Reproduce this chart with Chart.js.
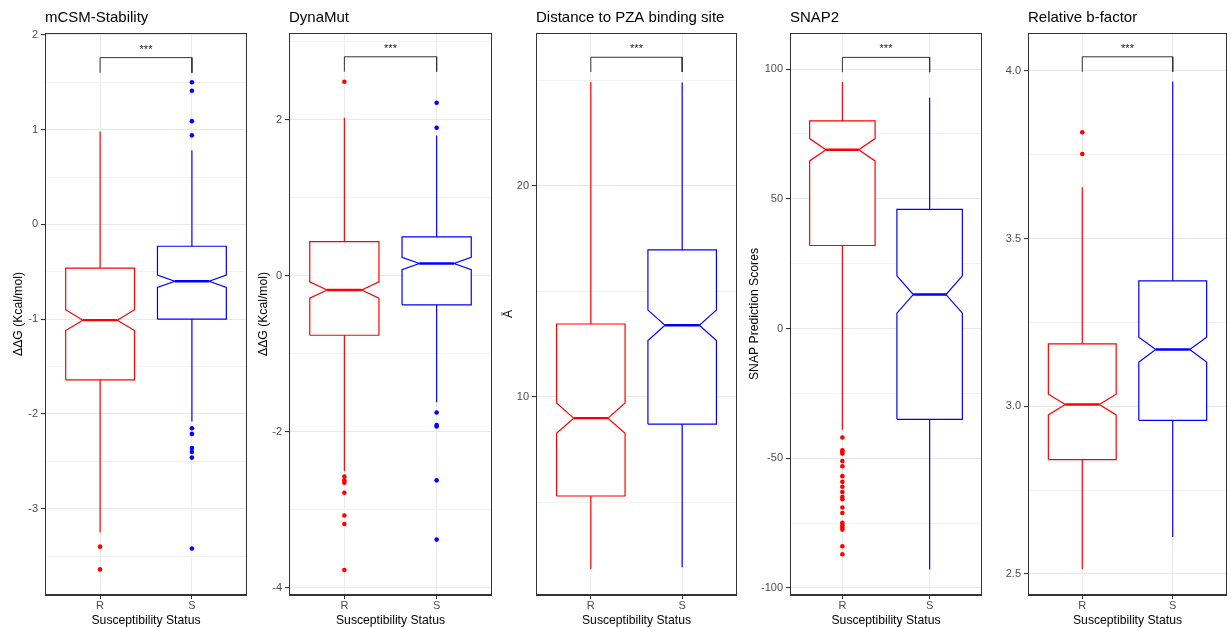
<!DOCTYPE html>
<html>
<head>
<meta charset="utf-8">
<script src="https://cdn.jsdelivr.net/npm/chart.js@4.4.1/dist/chart.umd.min.js"></script>
<style>
  body { margin: 0; background: #fff; }
  canvas { position: absolute; top: 0; }
</style>
</head>
<body>
<script>
const groups = ['R', 'S'];

// box stats: [lower whisker, Q1, median, Q3, upper whisker]
const mcsmR = [-3.25, -1.64, -1.01, -0.46, 0.98];
const mcsmS = [-2.08, -1.00, -0.60, -0.23, 0.78];
const mcsmNotch = [0.11, 0.065];
const mcsmOutR = [-3.40, -3.64];
const mcsmOutS = [1.50, 1.41, 1.09, 0.94, -2.15, -2.21, -2.36, -2.40, -2.46, -3.42];
const mcsmTicks = [-3, -2, -1, 0, 1, 2];
const mcsmBracket = [1.60, 1.76];

const dynaR = [-2.50, -0.76, -0.18, 0.44, 2.03];
const dynaS = [-1.62, -0.37, 0.16, 0.50, 1.80];
const dynaNotch = [0.105, 0.08];
const dynaOutR = [2.49, -2.57, -2.62, -2.65, -2.78, -3.07, -3.18, -3.77];
const dynaOutS = [2.22, 1.90, -1.75, -1.91, -1.93, -2.62, -3.38];
const dynaTicks = [-4, -2, 0, 2];
const dynaBracket = [2.62, 2.81];

const distR = [1.85, 5.31, 9.0, 13.46, 24.93];
const distS = [1.94, 8.72, 13.4, 16.97, 24.9];
const distNotch = [0.72, 0.72];
const distOutR = [];
const distOutS = [];
const distTicks = [10, 20];
const distBracket = [25.4, 26.1];

const snapR = [-39, 32, 68.9, 80, 95];
const snapS = [-92.9, -35, 13.1, 45.9, 88.9];
const snapNotch = [4.3, 7.2];
const snapOutR = [-42.0, -46.9, -47.5, -48.2, -51.1, -53.1, -56.9, -59.1, -61.0, -63.0,
                  -64.9, -65.8, -69.0, -71.1, -74.9, -75.8, -76.7, -77.5, -83.9, -87.0];
const snapOutS = [];
const snapTicks = [-100, -50, 0, 50, 100];
const snapBracket = [98.8, 104.5];

const bfacR = [2.514, 2.841, 3.005, 3.186, 3.653];
const bfacS = [2.61, 2.958, 3.169, 3.374, 3.968];
const bfacNotch = [0.031, 0.037];
const bfacOutR = [3.817, 3.752];
const bfacOutS = [];
const bfacTicks = [2.5, 3.0, 3.5, 4.0];
const bfacBracket = [3.997, 4.042];

const groupColors = ['#ff0000', '#0000ff'];
const boxHalf = 0.375;
const FONT = "'Liberation Sans', Arial, sans-serif";

const panels = [
  { title: 'mCSM-Stability', yTitle: 'ΔΔG (Kcal/mol)', boxes: [mcsmR, mcsmS], notch: mcsmNotch,
    out: [mcsmOutR, mcsmOutS], ticks: mcsmTicks, bracket: mcsmBracket, yMin: -3.91, yMax: 2.02,
    left: 11, plotLeft: 45, plotRight: 246, dec: 0 },
  { title: 'DynaMut', yTitle: 'ΔΔG (Kcal/mol)', boxes: [dynaR, dynaS], notch: dynaNotch,
    out: [dynaOutR, dynaOutS], ticks: dynaTicks, bracket: dynaBracket, yMin: -4.09, yMax: 3.115,
    left: 256, plotLeft: 289, plotRight: 491, dec: 0 },
  { title: 'Distance to PZA binding site', yTitle: 'Å', boxes: [distR, distS], notch: distNotch,
    out: [distOutR, distOutS], ticks: distTicks, bracket: distBracket, yMin: 0.62, yMax: 27.25,
    left: 501, plotLeft: 536, plotRight: 736, dec: 0 },
  { title: 'SNAP2', yTitle: 'SNAP Prediction Scores', boxes: [snapR, snapS], notch: snapNotch,
    out: [snapOutR, snapOutS], ticks: snapTicks, bracket: snapBracket, yMin: -102.7, yMax: 113.9,
    left: 747, plotLeft: 790, plotRight: 981, dec: 0 },
  { title: 'Relative b-factor', yTitle: '', boxes: [bfacR, bfacS], notch: bfacNotch,
    out: [bfacOutR, bfacOutS], ticks: bfacTicks, bracket: bfacBracket, yMin: 2.437, yMax: 4.113,
    left: 1000, plotLeft: 1028, plotRight: 1226, dec: 1 }
];

function line(data, color, width, order, extra) {
  return Object.assign({
    data: data, showLine: true, borderColor: color, borderWidth: width,
    pointRadius: 0, tension: 0, fill: false, order: order
  }, extra || {});
}

function makeChart(p) {
  const canvas = document.createElement('canvas');
  canvas.width = p.plotRight - p.left + 1;
  canvas.height = 627;
  canvas.style.left = p.left + 'px';
  document.body.appendChild(canvas);

  const isMajor = v => p.ticks.some(m => Math.abs(m - v) < 1e-6);
  const step = p.ticks[1] - p.ticks[0];
  const allTicks = [];
  for (let k = -2; k <= (p.ticks.length + 1) * 2; k++) {
    const v = Math.round((p.ticks[0] + k * step / 2) * 10000) / 10000;
    if (v >= p.yMin && v <= p.yMax) allTicks.push(v);
  }

  const datasets = [];
  p.boxes.forEach((b, i) => {
    const c = i + 1, col = groupColors[i], n = p.notch[i];
    const [lo, q1, med, q3, hi] = b;
    datasets.push(line([{ x: c, y: lo }, { x: c, y: hi }], col, 1.2, 3));
    datasets.push(line([
      { x: c - boxHalf, y: q1 }, { x: c - boxHalf, y: med - n }, { x: c - boxHalf / 2, y: med },
      { x: c - boxHalf, y: med + n }, { x: c - boxHalf, y: q3 }, { x: c + boxHalf, y: q3 },
      { x: c + boxHalf, y: med + n }, { x: c + boxHalf / 2, y: med }, { x: c + boxHalf, y: med - n },
      { x: c + boxHalf, y: q1 }, { x: c - boxHalf, y: q1 }
    ], col, 1.2, 2, { fill: 'shape', backgroundColor: '#ffffff' }));
    datasets.push(line([{ x: c - boxHalf / 2, y: med }, { x: c + boxHalf / 2, y: med }], col, 2.4, 1));
    datasets.push({
      data: p.out[i].map(y => ({ x: c, y: y })), showLine: false,
      pointRadius: 2.3, pointBackgroundColor: col, pointBorderWidth: 0, order: 0
    });
  });
  datasets.push(line([
    { x: 1, y: p.bracket[0] }, { x: 1, y: p.bracket[1] },
    { x: 2, y: p.bracket[1] }, { x: 2, y: p.bracket[0] }
  ], '#333333', 1, 4));

  const frame = {
    id: 'frame',
    afterDatasetsDraw(chart) {
      const ctx = chart.ctx, a = chart.chartArea;
      ctx.save();
      ctx.fillStyle = '#222';
      ctx.font = '11px ' + FONT;
      ctx.textAlign = 'center';
      ctx.textBaseline = 'alphabetic';
      ctx.fillText('***', chart.scales.x.getPixelForValue(1.5),
        chart.scales.y.getPixelForValue(p.bracket[1]) - 5);
      ctx.strokeStyle = '#333333';
      ctx.lineWidth = 1;
      ctx.strokeRect(a.left + 0.5, a.top + 0.5, a.right - a.left - 1, a.bottom - a.top - 1);
      ctx.restore();
    }
  };

  new Chart(canvas, {
    type: 'scatter',
    data: { datasets: datasets },
    plugins: [frame],
    options: {
      responsive: false,
      animation: false,
      devicePixelRatio: 1,
      layout: { autoPadding: false, padding: { left: 0, right: 0, top: 0, bottom: 0 } },
      plugins: {
        legend: { display: false },
        tooltip: { enabled: false },
        title: {
          display: true, text: p.title, align: 'start', fullSize: false, color: '#000',
          font: { family: FONT, size: 15, weight: 'normal', lineHeight: 1.2 },
          padding: { top: 9, bottom: 6 }
        }
      },
      scales: {
        x: {
          type: 'linear', min: 0.4, max: 2.6,
          afterBuildTicks: s => { s.ticks = [{ value: 1 }, { value: 2 }]; },
          afterFit: s => { s.height = 32; s.paddingLeft = 0; s.paddingRight = 0; },
          ticks: {
            callback: v => groups[v - 1], color: '#4d4d4d', padding: 0,
            font: { family: FONT, size: 11 }, maxRotation: 0, autoSkip: false
          },
          grid: { color: '#ebebeb', lineWidth: 1, tickColor: '#333333', tickLength: 4 },
          border: { color: '#333333', width: 1 },
          title: {
            display: true, text: 'Susceptibility Status', color: '#000',
            font: { family: FONT, size: 12.2, lineHeight: 1.0 }, padding: 0
          }
        },
        y: {
          type: 'linear', min: p.yMin, max: p.yMax,
          afterBuildTicks: s => { s.ticks = allTicks.map(v => ({ value: v })); },
          afterFit: s => { s.width = p.plotLeft - p.left; s.paddingTop = 0; s.paddingBottom = 0; },
          ticks: {
            callback: v => isMajor(v) ? v.toFixed(p.dec) : '',
            color: '#4d4d4d', padding: 3, autoSkip: false,
            font: { family: FONT, size: 11 }
          },
          grid: {
            color: c => isMajor(c.tick.value) ? '#e8e8e8' : '#f2f2f2',
            lineWidth: c => isMajor(c.tick.value) ? 1.1 : 1,
            tickColor: c => isMajor(c.tick.value) ? '#333333' : 'rgba(0,0,0,0)',
            tickLength: 4
          },
          border: { color: '#333333', width: 1 },
          title: {
            display: p.yTitle !== '', text: p.yTitle, color: '#000',
            font: { family: FONT, size: 12.2, lineHeight: 1.2 }, padding: 0
          }
        }
      }
    }
  });
}

panels.forEach(makeChart);
</script>
</body>
</html>
